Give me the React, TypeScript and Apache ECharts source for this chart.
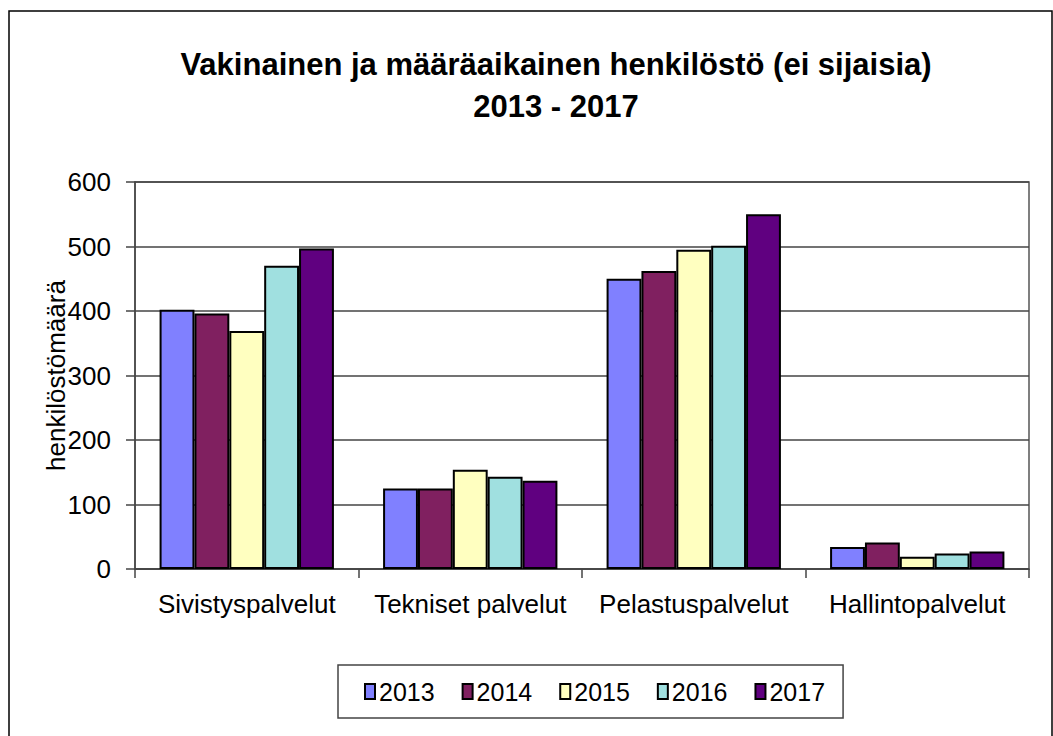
import React, { useEffect, useRef } from "react";
import * as echarts from "echarts";

const categories = ["Sivistyspalvelut", "Tekniset palvelut", "Pelastuspalvelut", "Hallintopalvelut"];
const years = ["2013", "2014", "2015", "2016", "2017"];
const values2013 = [402, 125, 450, 34];
const values2014 = [396, 125, 462, 41];
const values2015 = [369, 154, 495, 19];
const values2016 = [470, 143, 501, 24];
const values2017 = [497, 137, 550, 27];
const seriesValues = [values2013, values2014, values2015, values2016, values2017];
const colors = ["#8080FF", "#802060", "#FFFFC0", "#A0E0E0", "#600080"];
const yTicks = [0, 100, 200, 300, 400, 500, 600];

const FONT = "'Liberation Sans', Arial, sans-serif";

export default function App() {
  const ref = useRef<HTMLDivElement>(null);
  useEffect(() => {
    if (!ref.current) return;
    const chart = echarts.init(ref.current, null, { renderer: "svg" });
    chart.setOption({
      animation: false,
      backgroundColor: "#ffffff",
      textStyle: { fontFamily: FONT },
      title: {
        text: "Vakinainen ja määräaikainen henkilöstö (ei sijaisia)\n2013 - 2017",
        left: 551,
        top: 38,
        textAlign: "center",
        textStyle: {
          fontFamily: FONT,
          fontSize: 31,
          fontWeight: "bold",
          color: "#000",
          lineHeight: 42,
        },
      },
      graphic: [
        {
          type: "rect",
          shape: { x: 9, y: 11, width: 1043, height: 740 },
          style: { fill: "none", stroke: "#000", lineWidth: 1.5 },
          silent: true,
        },
      ],
      legend: {
        data: years,
        left: 338,
        top: 665,
        orient: "horizontal",
        icon: "rect",
        itemWidth: 10,
        itemHeight: 15,
        itemGap: 27,
        padding: [14, 18, 14, 26],
        borderColor: "#444",
        borderWidth: 1.5,
        textStyle: { fontFamily: FONT, fontSize: 25, color: "#000", padding: [0, 0, 0, -1] },
      },
      grid: {
        left: 135,
        right: 24,
        top: 182,
        bottom: 167,
        show: true,
        borderColor: "#555",
        borderWidth: 1.5,
        containLabel: false,
      },
      xAxis: {
        type: "category",
        data: categories,
        boundaryGap: true,
        axisLine: { show: true, lineStyle: { color: "#444", width: 1.5 } },
        axisTick: { show: true, length: 9, alignWithLabel: false, interval: 0, lineStyle: { color: "#444", width: 1.5 } },
        axisLabel: { fontFamily: FONT, fontSize: 26, color: "#000", margin: 22, interval: 0 },
      },
      yAxis: {
        type: "value",
        min: yTicks[0],
        max: yTicks[yTicks.length - 1],
        interval: 100,
        name: "henkilöstömäärä",
        nameLocation: "middle",
        nameGap: 66,
        nameRotate: 90,
        nameMoveOverlap: false,
        nameTextStyle: { fontFamily: FONT, fontSize: 26, color: "#000" },
        axisLine: { show: true, lineStyle: { color: "#444", width: 1.5 } },
        axisTick: { show: true, length: 9, lineStyle: { color: "#444", width: 1.5 } },
        axisLabel: { fontFamily: FONT, fontSize: 26, color: "#000", margin: 24 },
        splitLine: { show: true, lineStyle: { color: "#444", width: 1.5 } },
      },
      series: years.map((y, i) => ({
        name: y,
        type: "bar",
        data: seriesValues[i],
        barGap: "0%",
        barCategoryGap: "22%",
        itemStyle: { color: colors[i], borderColor: "#000", borderWidth: 2 },
      })),
    });
    return () => chart.dispose();
  }, []);
  return <div ref={ref} style={{ position: "fixed", left: 0, top: 0, width: 1053, height: 736 }} />;
}
